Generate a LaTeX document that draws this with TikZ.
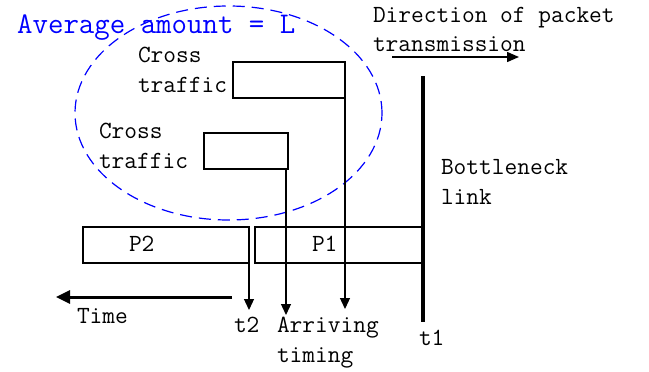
\documentclass[tikz,border=0pt]{standalone}
\usetikzlibrary{arrows.meta}
\tikzset{
  lbl/.style={anchor=base west, inner sep=0pt, outer sep=0pt, align=left,
    font=\ttfamily\fontsize{24.7}{30}\selectfont},
  pbox/.style={draw, line width=1.3pt, anchor=north west, inner sep=0pt, outer sep=0pt},
  conn/.style={line width=1.3pt, -{Triangle[length=11pt,width=10pt]}},
}
\begin{document}
\begin{tikzpicture}[x=1pt,y=-1pt]
\useasboundingbox (0,0) rectangle (649,372);
% group of cross traffic
\draw[blue, line width=1.2pt, dash pattern=on 12pt off 7pt] (228.5,113) ellipse [x radius=153.5pt, y radius=107pt];
\node[anchor=base west, inner sep=0pt, text=blue, font=\ttfamily\fontsize{30}{30}\selectfont] (avg) at (17,34) {Average amount = L};
% cross traffic packets
\node[pbox, minimum width=112pt, minimum height=36pt] (ct1) at (233,62) {};
\node[pbox, minimum width=84pt, minimum height=36pt] (ct2) at (204,133) {};
\node[lbl] (ct1t) at (138,92) {Cross\\traffic};
\node[lbl] (ct2t) at (99,168) {Cross\\traffic};
% probe packets
\node[pbox, minimum width=166pt, minimum height=36pt] (p2) at (83,227) {};
\node[pbox, minimum width=167pt, minimum height=36pt] (p1) at (255,227) {};
\node[lbl] (p2t) at (129,251) {P2};
\node[lbl] (p1t) at (312,251) {P1};
% bottleneck link
\coordinate (bt) at (423,76);
\coordinate (bb) at (423,322);
\draw[line width=4pt] (bt) -- (bb);
\node[lbl] (bl) at (441,204) {Bottleneck\\link};
\node[lbl] (t1) at (419,345) {t1};
% direction of transmission
\node[lbl] (dir) at (373,52) {Direction of packet\\transmission};
\coordinate (ds) at (392,57);
\coordinate (de) at (519,57);
\draw[line width=1.5pt, -{Triangle[length=12pt,width=10pt]}] (ds) -- (de);
% arrival times
\coordinate (a2) at (249,310);
\coordinate (ac2) at (286,315);
\coordinate (ac1) at (345,309);
\draw[conn] (p2.north east) -- (a2);
\draw[conn] (ct2.south east -| ac2) -- (ac2);
\draw[conn] (ct1.south east -| ac1) -- (ac1);
\node[lbl] (t2) at (234,332) {t2};
\node[lbl] (arr) at (277,362) {Arriving\\timing};
% time axis
\coordinate (ts) at (232,297);
\coordinate (te) at (56,297);
\draw[line width=3pt, -{Triangle[length=14pt,width=13pt]}] (ts) -- (te);
\node[lbl] (time) at (77,323) {Time};
\end{tikzpicture}
\end{document}
